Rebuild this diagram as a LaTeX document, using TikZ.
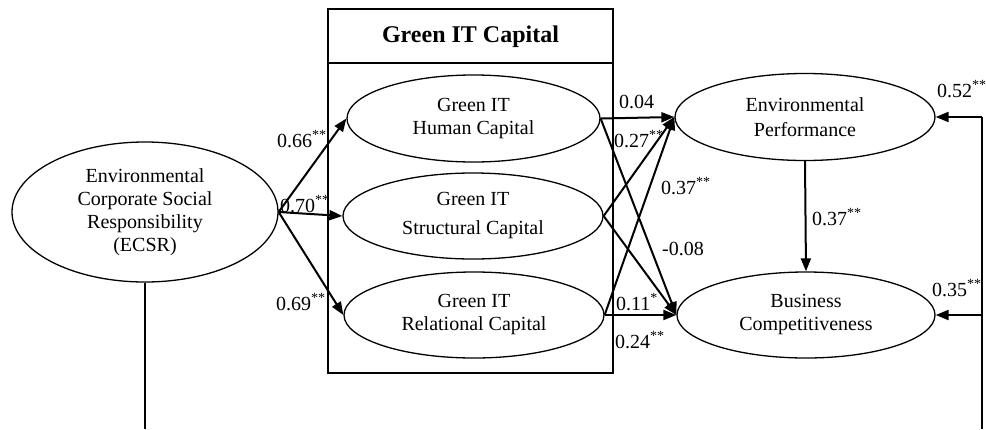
\documentclass[tikz,border=0pt]{standalone}
\usepackage{fontspec}
\setmainfont{Liberation Serif}
\usetikzlibrary{shapes.geometric,arrows.meta}
\begin{document}
\begin{tikzpicture}[x=1pt,y=-1pt,
 lat/.style={draw, ellipse, inner sep=0pt, line width=1.3pt, align=center, font=\fontsize{20}{23}\selectfont},
 pathar/.style={line width=2pt, -{Triangle[length=13pt,width=10pt]}},
 coef/.style={anchor=base west, inner sep=0pt, font=\fontsize{20}{23}\selectfont},
 plainln/.style={line width=1.4pt}]
\useasboundingbox (0,0) rectangle (986,429);
% Green IT Capital box
\draw[plainln] (328,9) rectangle (613,373);
\draw[plainln] (328,63) -- (613,63);
\node[font=\fontsize{24}{28}\selectfont\bfseries] (title) at (470.5,37) {Green IT Capital};
% latent variables
\node[lat, minimum width=266pt, minimum height=140pt] (ecsr) at (145,212) {Environmental\\Corporate Social\\Responsibility\\(ECSR)};
\node[lat, minimum width=253pt, minimum height=87pt] (hc) at (473.5,118.5) {Green IT\\Human Capital};
\node[lat, minimum width=260pt, minimum height=86pt, font=\fontsize{20}{29}\selectfont] (sc) at (473,216) {Green IT\\Structural Capital};
\node[lat, minimum width=260pt, minimum height=86pt] (rc) at (474,315) {Green IT\\Relational Capital};
\node[lat, minimum width=260pt, minimum height=87pt, font=\fontsize{20}{25}\selectfont] (ep) at (805,117) {Environmental\\Performance};
\node[lat, minimum width=258pt, minimum height=86pt] (bc) at (806,315) {Business\\Competitiveness};
% paths
\draw[pathar] (ecsr.east) -- (hc.west);
\draw[pathar] (ecsr.east) -- (sc.west);
\draw[pathar] (ecsr.east) -- (rc.west);
\draw[pathar] (hc.east) -- (ep.west);
\draw[pathar] (hc.east) -- (bc.west);
\draw[pathar] (sc.east) -- (ep.west);
\draw[pathar] (sc.east) -- (bc.west);
\draw[pathar] (rc.east) -- (ep.west);
\draw[pathar] (rc.east) -- (bc.west);
\draw[pathar] (ep.south) -- (bc.north);
% lines running off the bottom
\coordinate (bl) at (ecsr.south |- 0,429);
\coordinate (br) at (982,429);
\draw[plainln] (ecsr.south) -- (bl);
\draw[plainln, line width=1.8pt] (br) -- (br |- ep.east);
\draw[pathar] (br |- ep.east) -- (ep.east);
\draw[pathar] (br |- bc.east) -- (bc.east);
% coefficients
\node[coef] (c1) at (277,147) {0.66\textsuperscript{**}};
\node[coef] (c2) at (280,212) {0.70\textsuperscript{**}};
\node[coef] (c3) at (276,310) {0.69\textsuperscript{**}};
\node[coef] (c4) at (619,108) {0.04};
\node[coef] (c5) at (614,147) {0.27\textsuperscript{**}};
\node[coef] (c6) at (661,194) {0.37\textsuperscript{**}};
\node[coef] (c7) at (662,255) {-0.08};
\node[coef] (c8) at (616,310) {0.11\textsuperscript{*}};
\node[coef] (c9) at (615,348) {0.24\textsuperscript{**}};
\node[coef] (c10) at (812,225) {0.37\textsuperscript{**}};
\node[coef] (c11) at (937,97) {0.52\textsuperscript{**}};
\node[coef] (c12) at (932,296) {0.35\textsuperscript{**}};
\end{tikzpicture}
\end{document}
